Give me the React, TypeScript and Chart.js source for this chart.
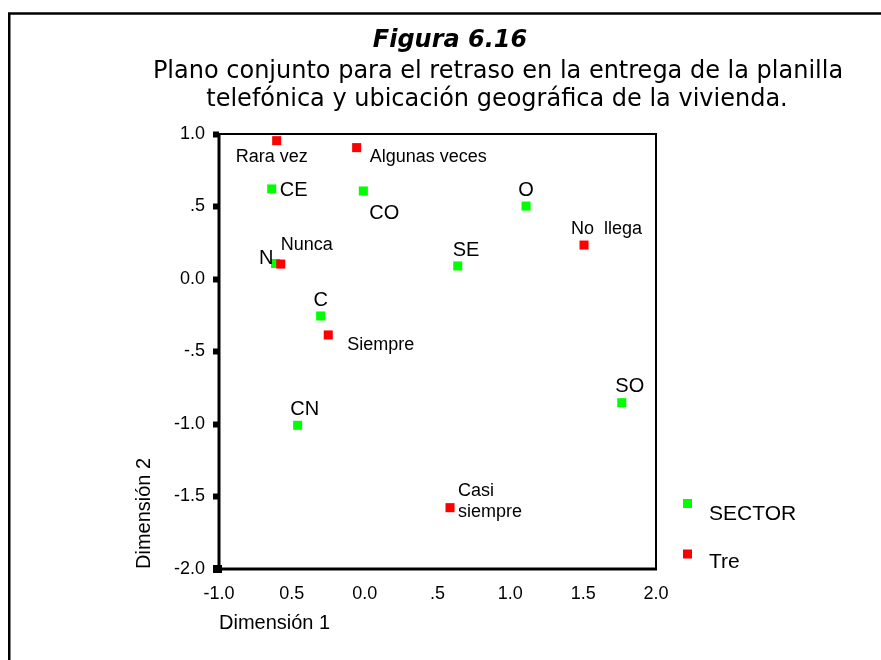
import React, { useEffect, useRef } from "react";
import { Chart, registerables } from "chart.js";

Chart.register(...registerables);

// ---- Data ----
const sectorNames = ["CE", "CO", "N", "C", "CN", "SE", "O", "SO"];
const sectorX = [-0.638, -0.009, -0.612, -0.302, -0.46, 0.639, 1.108, 1.765];
const sectorY = [0.621, 0.607, 0.107, -0.255, -1.009, 0.09, 0.503, -0.853];

const treNames = ["Rara vez", "Algunas veces", "Nunca", "Siempre", "Casi\nsiempre", "No  llega"];
const treX = [-0.604, -0.055, -0.576, -0.25, 0.586, 1.506];
const treY = [0.954, 0.906, 0.103, -0.386, -1.577, 0.234];

const xTickLabels = ["-1.0", "0.5", "0.0", ".5", "1.0", "1.5", "2.0"];
const yTickLabels = ["-2.0", "-1.5", "-1.0", "-.5", "0.0", ".5", "1.0"];

const titleText = "Figura 6.16";
const subtitleLines = [
  "Plano conjunto para el retraso en la entrega de la planilla",
  "telefónica y ubicación geográfica de la vivienda.",
];
const xTitle = "Dimensión 1";
const yTitle = "Dimensión 2";

// ---- Styles (label placement relative to the point, in px) ----
type Place = { dx: number; dy: number; align: CanvasTextAlign };
const labelPlace: Record<string, Place> = {
  CE: { dx: 8, dy: 2, align: "left" },
  CO: { dx: 6, dy: 22, align: "left" },
  N: { dx: -2, dy: -5, align: "right" },
  C: { dx: 0, dy: -15, align: "center" },
  CN: { dx: 7, dy: -16, align: "center" },
  SE: { dx: -5, dy: -15, align: "left" },
  O: { dx: 0, dy: -16, align: "center" },
  SO: { dx: 8, dy: -16, align: "center" },
  "Rara vez": { dx: -41, dy: 16, align: "left" },
  "Algunas veces": { dx: 13, dy: 9, align: "left" },
  Nunca: { dx: 0, dy: -19, align: "left" },
  Siempre: { dx: 19, dy: 10, align: "left" },
  "Casi\nsiempre": { dx: 8, dy: -17, align: "left" },
  "No  llega": { dx: -13, dy: -16, align: "left" },
};

const GREEN = "#00ff00";
const RED = "#ff0000";
const SANS = "'Liberation Sans', Arial, sans-serif";

const decorPlugin = {
  id: "decor",
  beforeDraw(chart: any) {
    const { ctx, width, height } = chart;
    ctx.save();
    ctx.fillStyle = "#ffffff";
    ctx.fillRect(0, 0, width, height);
    // outer frame (top + left)
    ctx.strokeStyle = "#000";
    ctx.lineWidth = 2.5;
    ctx.beginPath();
    ctx.moveTo(9.25, height);
    ctx.lineTo(9.25, 13.5);
    ctx.lineTo(width, 13.5);
    ctx.stroke();
    // titles
    ctx.fillStyle = "#000";
    ctx.textAlign = "center";
    ctx.textBaseline = "middle";
    ctx.font = "italic bold 24px 'DejaVu Sans'";
    ctx.fillText(titleText, 450, 41);
    ctx.font = "24px 'DejaVu Sans'";
    ctx.fillText(subtitleLines[0], 498, 72);
    ctx.fillText(subtitleLines[1], 497, 100);
    ctx.restore();
  },
  afterDraw(chart: any) {
    const { ctx, chartArea } = chart;
    const { left, right, top, bottom } = chartArea;
    ctx.save();
    ctx.strokeStyle = "#000";
    // plot frame
    ctx.lineWidth = 2;
    ctx.beginPath();
    ctx.moveTo(left, top);
    ctx.lineTo(right, top);
    ctx.lineTo(right, bottom);
    ctx.stroke();
    ctx.lineWidth = 3;
    ctx.beginPath();
    ctx.moveTo(left, top - 1);
    ctx.lineTo(left, bottom);
    ctx.lineTo(right + 1, bottom);
    ctx.stroke();
    ctx.fillStyle = "#000";
    ctx.fillRect(left - 6, bottom - 4, 9, 8);

    // point labels
    ctx.textBaseline = "middle";
    chart.data.datasets.forEach((ds: any, di: number) => {
      const meta = chart.getDatasetMeta(di);
      ctx.font = `${ds.labelFontSize}px ${SANS}`;
      meta.data.forEach((el: any, i: number) => {
        const name: string = ds.names[i];
        const p = labelPlace[name] || { dx: 8, dy: 0, align: "left" };
        ctx.textAlign = p.align;
        const lines = name.split("\n");
        lines.forEach((ln, li) => {
          ctx.fillText(ln, el.x + p.dx, el.y + p.dy + li * 21);
        });
      });
    });

    // legend
    ctx.font = `21px ${SANS}`;
    ctx.textAlign = "left";
    const legendRows = [
      { sq: 503.5, ty: 514 },
      { sq: 554, ty: 562 },
    ];
    chart.data.datasets.forEach((ds: any, di: number) => {
      const r = legendRows[di];
      ctx.fillStyle = ds.backgroundColor;
      ctx.fillRect(683, r.sq - 4.5, 9, 9);
      ctx.fillStyle = "#000";
      ctx.fillText(ds.label, 709, r.ty);
    });
    ctx.restore();
  },
};

export default function App() {
  const ref = useRef<HTMLCanvasElement | null>(null);
  useEffect(() => {
    if (!ref.current) return;
    const chart = new Chart(ref.current, {
      type: "scatter",
      data: {
        datasets: [
          {
            label: "SECTOR",
            names: sectorNames,
            labelFontSize: 20,
            data: sectorX.map((x, i) => ({ x, y: sectorY[i] })),
            backgroundColor: GREEN,
            borderColor: GREEN,
            borderWidth: 0,
            pointStyle: "rect",
            pointRadius: 6.4,
            order: 1,
          } as any,
          {
            label: "Tre",
            names: treNames,
            labelFontSize: 18,
            data: treX.map((x, i) => ({ x, y: treY[i] })),
            backgroundColor: RED,
            borderColor: RED,
            borderWidth: 0,
            pointStyle: "rect",
            pointRadius: 6.4,
            order: 0,
          } as any,
        ],
      },
      options: {
        animation: false,
        responsive: true,
        maintainAspectRatio: false,
        layout: { padding: { left: 0, top: 134, right: 225, bottom: 0 } },
        plugins: {
          legend: { display: false },
          tooltip: { enabled: false },
          title: { display: false },
        },
        scales: {
          x: {
            type: "linear",
            min: -1,
            max: 2,
            border: { display: false },
            grid: { display: false, drawTicks: false },
            ticks: {
              stepSize: 0.5,
              color: "#000",
              padding: 14,
              maxRotation: 0,
              font: { family: SANS, size: 18 },
              callback: (v: any) => xTickLabels[Math.round((Number(v) + 1) / 0.5)] ?? "",
            },
            title: {
              display: true,
              text: xTitle,
              align: "start",
              color: "#000",
              font: { family: SANS, size: 20 },
              padding: { top: 0, bottom: 25 },
            },
            afterFit: (s: any) => {
              s.height = 91;
            },
          },
          y: {
            type: "linear",
            min: -2,
            max: 1,
            border: { display: false },
            grid: {
              display: true,
              drawOnChartArea: false,
              drawTicks: true,
              tickLength: 6,
              tickWidth: 6,
              tickColor: "#000",
              color: "#000",
            },
            ticks: {
              stepSize: 0.5,
              color: "#000",
              padding: 8,
              font: { family: SANS, size: 18 },
              callback: (v: any) => yTickLabels[Math.round((Number(v) + 2) / 0.5)] ?? "",
            },
            title: {
              display: true,
              text: yTitle,
              align: "start",
              color: "#000",
              font: { family: SANS, size: 20 },
              padding: { top: 132, bottom: 0 },
            },
            afterFit: (s: any) => {
              s.width = 219;
            },
          },
        },
      } as any,
      plugins: [decorPlugin],
    });
    return () => chart.destroy();
  }, []);

  return (
    <div style={{ position: "fixed", left: 0, top: 0, width: 881, height: 660, background: "#fff" }}>
      <canvas ref={ref} />
    </div>
  );
}
